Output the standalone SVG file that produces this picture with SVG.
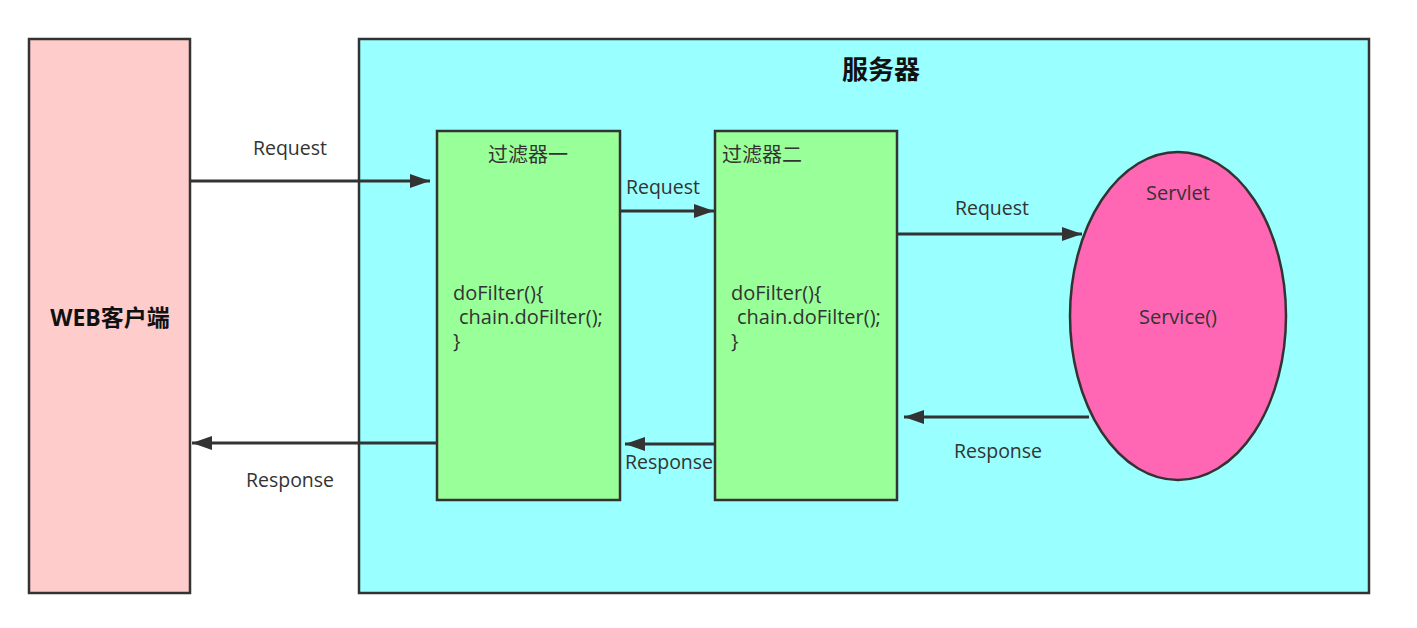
<svg xmlns="http://www.w3.org/2000/svg" width="1417" height="628" viewBox="0 0 1417 628">
<style>
.box{stroke:#333;stroke-width:2.5}
.t{font-family:"Open Sans","Noto Sans","Noto Sans CJK SC",sans-serif;font-size:19.5px;fill:#333}
.code{font-size:20px}
.c{text-anchor:middle}
.b{font-weight:bold;fill:#111}
.ln{stroke:#333;stroke-width:3;fill:none;marker-end:url(#ah)}
</style>
<defs>
<marker id="ah" markerUnits="userSpaceOnUse" markerWidth="22" markerHeight="16" refX="20" refY="7" orient="auto">
<path d="M0,0 L20,7 L0,14 Z" fill="#333"/>
</marker>
</defs>
<rect width="1417" height="628" fill="#fff"/>
<g id="client">
<rect class="box" x="29" y="39" width="161" height="554" fill="#FFCCCC"/>
<text class="t c b" x="110" y="326" style="font-size:23px">WEB客户端</text>
</g>
<g id="server">
<rect class="box" x="359" y="39" width="1010" height="554" fill="#99FFFF"/>
<text class="t c b" x="881" y="79" style="font-size:26px">服务器</text>
</g>
<g id="filter1">
<rect class="box" x="437" y="131" width="183" height="369" fill="#99FF99"/>
<text class="t c" x="528" y="162" style="font-size:20px">过滤器一</text>
<text class="t code" x="453" y="300">doFilter(){</text>
<text class="t code" x="459" y="324">chain.doFilter();</text>
<text class="t code" x="453" y="348">}</text>
</g>
<g id="filter2">
<rect class="box" x="715" y="131" width="182" height="369" fill="#99FF99"/>
<text class="t" x="722" y="162" style="font-size:20px">过滤器二</text>
<text class="t code" x="731" y="300">doFilter(){</text>
<text class="t code" x="737" y="324">chain.doFilter();</text>
<text class="t code" x="731" y="348">}</text>
</g>
<g id="servlet">
<ellipse class="box" cx="1178" cy="316" rx="108" ry="164" fill="#FF66B3"/>
<text class="t c code" x="1178" y="200">Servlet</text>
<text class="t c code" x="1178" y="324">Service()</text>
</g>
<g id="connectors">
<line class="ln" x1="190" y1="181" x2="430" y2="181"/>
<line class="ln" x1="620" y1="211" x2="714" y2="211"/>
<line class="ln" x1="897" y1="234" x2="1082" y2="234"/>
<line class="ln" x1="1089" y1="417" x2="904" y2="417"/>
<line class="ln" x1="715" y1="444" x2="625" y2="444"/>
<line class="ln" x1="437" y1="443" x2="192" y2="443"/>
<text class="t c" x="290" y="155">Request</text>
<text class="t c" x="663" y="194">Request</text>
<text class="t c" x="992" y="215">Request</text>
<text class="t c" x="998" y="458">Response</text>
<text class="t c" x="669" y="469">Response</text>
<text class="t c" x="290" y="487">Response</text>
</g>
</svg>
